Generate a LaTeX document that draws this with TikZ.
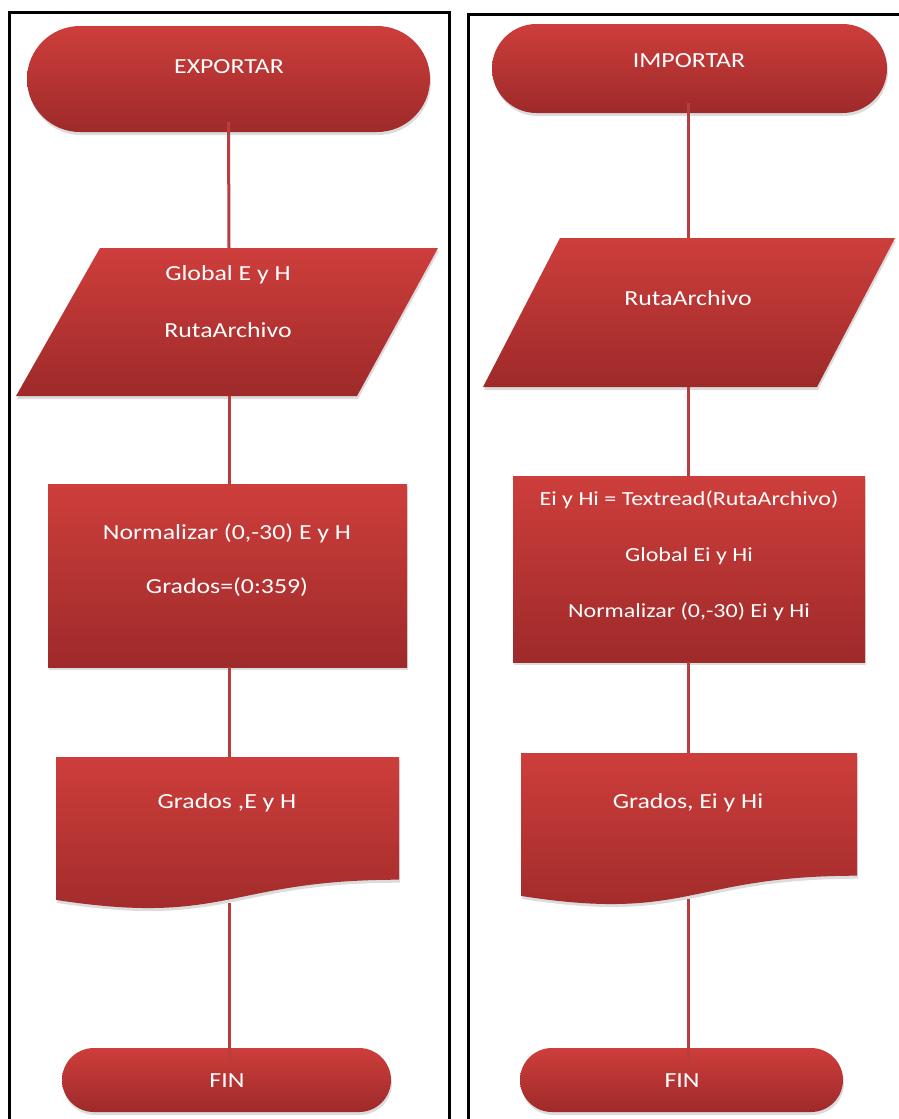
\documentclass[tikz,border=0pt]{standalone}
\usepackage{fontspec}
\newfontfamily\flowfont[FakeStretch=1.2]{Carlito}
\usetikzlibrary{shapes.misc,shadows}
\definecolor{redtop}{RGB}{205,62,59}
\definecolor{redbot}{RGB}{158,42,42}
\definecolor{redline}{RGB}{184,62,62}
\tikzset{
  redfill/.style={top color=redtop, bottom color=redbot, draw=none,
    drop shadow={opacity=0.28, shadow xshift=1pt, shadow yshift=-3pt}},
  txt/.style={text=white, font=\flowfont\fontsize{21.5}{25}\selectfont,
    inner sep=0pt, text height=15pt, text depth=4pt},
  tighttxt/.style={txt, font=\flowfont\fontsize{20}{24}\selectfont},
  terminal/.style={redfill, rounded rectangle, inner sep=0pt},
  procbox/.style={redfill, rectangle, inner sep=0pt},
  link/.style={draw=redline, line width=3pt},
  panel/.style={draw=black, line width=3.4pt},
}
\begin{document}
\begin{tikzpicture}[x=1pt, y=-1pt]
\useasboundingbox (0,0) rectangle (899,1119);
\clip (0,0) rectangle (899,1119);

% frames around the two flowcharts
\draw[panel] (9.5,12.5) rectangle (449.5,1140);
\draw[panel] (468.5,14.5) rectangle (912,1140);

% ---------- EXPORTAR ----------
\node[terminal, minimum width=403pt, minimum height=106pt] (t1) at (228.5,79) {};
\path[redfill] (100,248) -- (438,248) -- (357,396) -- (16,396) -- cycle;
\coordinate (p1n) at (229,248);
\coordinate (p1s) at (229,396);
\node[procbox, minimum width=359pt, minimum height=183pt] (r1) at (227.5,575.5) {};
\path[redfill] (56,757) -- (399,757) -- (399,879.7)
  .. controls (227.5,879.7) and (227.5,926.4) .. (56,899.9) -- cycle;
\coordinate (d1n) at (229,757);
\coordinate (d1s) at (229,903);
\node[terminal, minimum width=329pt, minimum height=64pt] (f1) at (226.5,1080) {};

\draw[link] ([yshift=10pt]t1.south) -- (p1n);
\draw[link] (p1s) -- (r1.north -| p1s);
\draw[link] (r1.south -| p1s) -- (d1n);
\draw[link] (d1s) -- ([yshift=-14pt]f1.north -| d1s);

\node[txt] (t1txt) at (229,68) {EXPORTAR};
\node[txt] (p1a) at (228,275) {Global E y H};
\node[txt] (p1b) at (228,332) {RutaArchivo};
\node[txt] (r1a) at (227,534) {Normalizar (0,-30) E y H};
\node[txt] (r1b) at (227,588) {Grados=(0:359)};
\node[txt] (d1txt) at (227,803) {Grados ,E y H};
\node[txt] (f1txt) at (227,1082) {FIN};

% ---------- IMPORTAR ----------
\node[terminal, minimum width=395pt, minimum height=89pt] (t2) at (689.5,68.5) {};
\path[redfill] (560,238) -- (895,238) -- (817,387) -- (483,387) -- cycle;
\coordinate (p2n) at (688,238);
\coordinate (p2s) at (688,387);
\node[procbox, minimum width=352pt, minimum height=186pt] (r2) at (689,569) {};
\path[redfill] (521,753) -- (857,753) -- (857,875.7)
  .. controls (689,875.7) and (689,922.4) .. (521,895.9) -- cycle;
\coordinate (d2n) at (688,753);
\coordinate (d2s) at (688,899);
\node[terminal, minimum width=323pt, minimum height=64pt] (f2) at (681.5,1080) {};

\draw[link] ([yshift=10pt]t2.south -| p2n) -- (p2n);
\draw[link] (p2s) -- (r2.north -| p2s);
\draw[link] (r2.south -| p2s) -- (d2n);
\draw[link] (d2s) -- ([yshift=-14pt]f2.north -| d2s);

\node[txt] (t2txt) at (689,62) {IMPORTAR};
\node[txt] (p2a) at (688,300) {RutaArchivo};
\node[tighttxt] (r2a) at (689,500) {Ei y Hi = Textread(RutaArchivo)};
\node[tighttxt] (r2b) at (689,556) {Global Ei y Hi};
\node[tighttxt] (r2c) at (689,612) {Normalizar (0,-30) Ei y Hi};
\node[txt] (d2txt) at (688,803) {Grados, Ei y Hi};
\node[txt] (f2txt) at (682,1082) {FIN};
\end{tikzpicture}
\end{document}
